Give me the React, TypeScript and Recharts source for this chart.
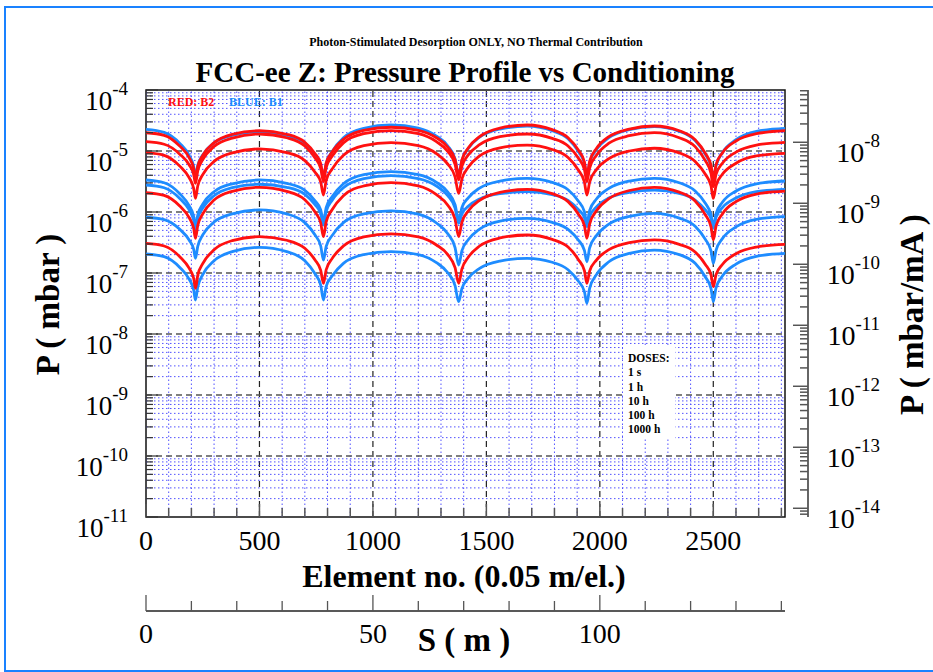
import { LineChart, Line, XAxis, YAxis, ReferenceLine, ReferenceArea } from 'recharts';

const SERIF = "'Liberation Serif', 'Times New Roman', serif";
const RED = '#ff1010';
const BLUE = '#1e8cff';

// element positions shared by every curve (0.05 m per element)
const ELEMENTS = [
  0, 80, 150, 190, 210, 218, 228, 250, 300, 380, 500, 620, 700, 745, 770, 782, 794, 820, 870, 960, 1080,
  1200, 1280, 1330, 1362, 1378, 1392, 1420, 1470, 1560, 1680, 1790, 1860, 1905, 1932, 1943, 1955, 1985,
  2040, 2130, 2240, 2350, 2420, 2465, 2490, 2500, 2512, 2540, 2600, 2690, 2816,
];
const ELEMENT_MAX = 2816;
const METRES_PER_ELEMENT = 0.05;
const BEAM_CURRENT_MA = 1390;

// B2 (red)
const RED_1S = [1.99e-5, 1.81e-5, 1.19e-5, 7.8e-6, 5.2e-6, 3.56e-6, 5.6e-6, 8.5e-6, 1.37e-5, 1.88e-5, 2.15e-5, 1.88e-5, 1.39e-5, 9.05e-6, 6.2e-6, 3.8e-6, 6.35e-6, 9.6e-6, 1.55e-5, 2.18e-5, 2.45e-5, 2.18e-5, 1.65e-5, 1.15e-5, 7.2e-6, 4.04e-6, 7.1e-6, 1.12e-5, 1.72e-5, 2.38e-5, 2.67e-5, 2.24e-5, 1.65e-5, 1.04e-5, 6.6e-6, 4.04e-6, 6.75e-6, 1.1e-5, 1.72e-5, 2.29e-5, 2.57e-5, 2.15e-5, 1.53e-5, 9.15e-6, 5.8e-6, 3.56e-6, 5.9e-6, 9.3e-6, 1.46e-5, 1.92e-5, 2.15e-5];
const RED_1H = [1.42e-5, 1.29e-5, 8.8e-6, 5.95e-6, 4.15e-6, 2.95e-6, 4.7e-6, 7.2e-6, 1.19e-5, 1.63e-5, 1.9e-5, 1.65e-5, 1.21e-5, 7.7e-6, 5.2e-6, 3.14e-6, 5.4e-6, 8.2e-6, 1.36e-5, 1.92e-5, 2.15e-5, 1.92e-5, 1.42e-5, 9.85e-6, 6.05e-6, 3.35e-6, 5.6e-6, 8.6e-6, 1.27e-5, 1.72e-5, 1.9e-5, 1.61e-5, 1.21e-5, 7.7e-6, 5.0e-6, 3.14e-6, 5.25e-6, 8.5e-6, 1.34e-5, 1.78e-5, 2.0e-5, 1.65e-5, 1.18e-5, 6.95e-6, 4.3e-6, 2.6e-6, 4.15e-6, 6.3e-6, 9.6e-6, 1.25e-5, 1.39e-5];
const RED_10H = [9.4e-6, 8.5e-6, 5.6e-6, 3.65e-6, 2.44e-6, 1.67e-6, 2.67e-6, 4.1e-6, 6.75e-6, 9.3e-6, 1.08e-5, 9.4e-6, 6.95e-6, 4.5e-6, 3.1e-6, 1.9e-6, 3.3e-6, 5.05e-6, 8.5e-6, 1.22e-5, 1.37e-5, 1.22e-5, 9.05e-6, 6.1e-6, 3.75e-6, 2.02e-6, 3.47e-6, 5.4e-6, 8.3e-6, 1.13e-5, 1.25e-5, 1.06e-5, 7.8e-6, 4.88e-6, 3.1e-6, 1.9e-6, 3.1e-6, 4.95e-6, 7.5e-6, 1.0e-5, 1.11e-5, 9.3e-6, 6.75e-6, 4.15e-6, 2.67e-6, 1.67e-6, 2.7e-6, 4.15e-6, 6.3e-6, 8.3e-6, 9.15e-6];
const RED_100H = [2.07e-6, 1.87e-6, 1.24e-6, 8.1e-7, 5.4e-7, 3.7e-7, 6.0e-7, 9.3e-7, 1.57e-6, 2.18e-6, 2.54e-6, 2.18e-6, 1.59e-6, 1.0e-6, 6.6e-7, 3.94e-7, 6.94e-7, 1.09e-6, 1.85e-6, 2.67e-6, 3.02e-6, 2.67e-6, 1.92e-6, 1.29e-6, 7.6e-7, 3.94e-7, 6.75e-7, 1.04e-6, 1.55e-6, 2.1e-6, 2.35e-6, 2.0e-6, 1.48e-6, 9.3e-7, 6.0e-7, 3.7e-7, 6.35e-7, 1.05e-6, 1.65e-6, 2.25e-6, 2.54e-6, 2.12e-6, 1.52e-6, 9.0e-7, 5.7e-7, 3.48e-7, 5.85e-7, 9.3e-7, 1.48e-6, 1.97e-6, 2.2e-6];
const RED_1000H = [3.06e-7, 2.77e-7, 1.83e-7, 1.2e-7, 8.2e-8, 5.6e-8, 9.15e-8, 1.42e-7, 2.41e-7, 3.4e-7, 3.94e-7, 3.44e-7, 2.54e-7, 1.63e-7, 1.1e-7, 6.77e-8, 1.13e-7, 1.72e-7, 2.77e-7, 3.9e-7, 4.37e-7, 3.9e-7, 2.88e-7, 2.0e-7, 1.22e-7, 6.77e-8, 1.16e-7, 1.81e-7, 2.77e-7, 3.75e-7, 4.2e-7, 3.56e-7, 2.66e-7, 1.67e-7, 1.09e-7, 6.77e-8, 1.07e-7, 1.63e-7, 2.41e-7, 3.15e-7, 3.48e-7, 2.95e-7, 2.21e-7, 1.38e-7, 9.3e-8, 5.97e-8, 9.4e-8, 1.38e-7, 2.07e-7, 2.66e-7, 2.95e-7];

// B1 (blue)
const BLUE_1S = [2.27e-5, 2.02e-5, 1.32e-5, 8.5e-6, 5.6e-6, 3.8e-6, 5.8e-6, 8.6e-6, 1.36e-5, 1.81e-5, 2.07e-5, 1.81e-5, 1.34e-5, 8.6e-6, 5.8e-6, 3.56e-6, 6.3e-6, 9.75e-6, 1.65e-5, 2.35e-5, 2.67e-5, 2.38e-5, 1.76e-5, 1.21e-5, 7.4e-6, 4.04e-6, 7.0e-6, 1.1e-5, 1.68e-5, 2.29e-5, 2.57e-5, 2.15e-5, 1.59e-5, 9.85e-6, 6.3e-6, 3.8e-6, 6.45e-6, 1.06e-5, 1.65e-5, 2.24e-5, 2.51e-5, 2.1e-5, 1.48e-5, 8.8e-6, 5.5e-6, 3.35e-6, 5.75e-6, 9.4e-6, 1.53e-5, 2.1e-5, 2.35e-5];
const BLUE_1H = [3.35e-6, 3.02e-6, 1.97e-6, 1.27e-6, 8.5e-7, 5.75e-7, 8.9e-7, 1.34e-6, 2.15e-6, 2.9e-6, 3.35e-6, 2.95e-6, 2.27e-6, 1.52e-6, 1.08e-6, 6.94e-7, 1.18e-6, 1.78e-6, 2.9e-6, 4.1e-6, 4.58e-6, 4.1e-6, 3.06e-6, 2.12e-6, 1.32e-6, 7.39e-7, 1.18e-6, 1.71e-6, 2.47e-6, 3.22e-6, 3.56e-6, 3.06e-6, 2.32e-6, 1.52e-6, 1.01e-6, 6.52e-7, 1.05e-6, 1.63e-6, 2.44e-6, 3.22e-6, 3.56e-6, 3.02e-6, 2.21e-6, 1.39e-6, 9.0e-7, 5.75e-7, 9.3e-7, 1.44e-6, 2.21e-6, 2.9e-6, 3.22e-6];
const BLUE_10H = [2.77e-6, 2.5e-6, 1.65e-6, 1.09e-6, 7.39e-7, 5.07e-7, 7.8e-7, 1.16e-6, 1.85e-6, 2.5e-6, 2.85e-6, 2.54e-6, 1.95e-6, 1.32e-6, 9.4e-7, 6.12e-7, 1.02e-6, 1.55e-6, 2.5e-6, 3.52e-6, 3.95e-6, 3.52e-6, 2.67e-6, 1.85e-6, 1.16e-6, 6.52e-7, 9.3e-7, 1.24e-6, 1.63e-6, 2.0e-6, 2.15e-6, 1.92e-6, 1.55e-6, 1.1e-6, 8.1e-7, 5.75e-7, 8.5e-7, 1.21e-6, 1.69e-6, 2.1e-6, 2.29e-6, 2.02e-6, 1.57e-6, 1.08e-6, 7.8e-7, 5.4e-7, 8.2e-7, 1.18e-6, 1.69e-6, 2.15e-6, 2.35e-6];
const BLUE_100H = [8.2e-7, 7.5e-7, 5.15e-7, 3.48e-7, 2.45e-7, 1.74e-7, 2.73e-7, 4.2e-7, 6.85e-7, 9.3e-7, 1.08e-6, 9.3e-7, 6.7e-7, 4.2e-7, 2.77e-7, 1.63e-7, 2.73e-7, 4.1e-7, 6.7e-7, 9.3e-7, 1.04e-6, 9.2e-7, 6.6e-7, 4.4e-7, 2.6e-7, 1.35e-7, 2.3e-7, 3.5e-7, 5.25e-7, 7.1e-7, 7.87e-7, 6.75e-7, 5.2e-7, 3.48e-7, 2.35e-7, 1.53e-7, 2.57e-7, 4.1e-7, 6.35e-7, 8.5e-7, 9.51e-7, 7.95e-7, 5.85e-7, 3.56e-7, 2.3e-7, 1.44e-7, 2.35e-7, 3.66e-7, 5.7e-7, 7.6e-7, 8.38e-7];
const BLUE_1000H = [2.05e-7, 1.85e-7, 1.22e-7, 7.9e-8, 5.26e-8, 3.61e-8, 5.9e-8, 9.4e-8, 1.59e-7, 2.24e-7, 2.63e-7, 2.24e-7, 1.59e-7, 9.7e-8, 6.3e-8, 3.61e-8, 6.05e-8, 8.9e-8, 1.44e-7, 2.0e-7, 2.24e-7, 2.0e-7, 1.48e-7, 1.01e-7, 6.2e-8, 3.39e-8, 5.55e-8, 8.2e-8, 1.19e-7, 1.57e-7, 1.74e-7, 1.5e-7, 1.13e-7, 7.4e-8, 4.95e-8, 3.18e-8, 5.6e-8, 9.4e-8, 1.53e-7, 2.1e-7, 2.38e-7, 2.0e-7, 1.44e-7, 8.6e-8, 5.55e-8, 3.39e-8, 5.7e-8, 8.9e-8, 1.4e-7, 1.88e-7, 2.1e-7];

const SERIES = [
  { key: 'b1s', values: BLUE_1S, color: BLUE },
  { key: 'b1h', values: BLUE_1H, color: BLUE },
  { key: 'b10h', values: BLUE_10H, color: BLUE },
  { key: 'b100h', values: BLUE_100H, color: BLUE },
  { key: 'b1000h', values: BLUE_1000H, color: BLUE },
  { key: 'r1s', values: RED_1S, color: RED },
  { key: 'r1h', values: RED_1H, color: RED },
  { key: 'r10h', values: RED_10H, color: RED },
  { key: 'r100h', values: RED_100H, color: RED },
  { key: 'r1000h', values: RED_1000H, color: RED },
];

const DOSES = ['1 s', '1 h', '10 h', '100 h', '1000 h'];

// ticks
const X_TICKS = [0, 100, 200, 300, 400, 500, 600, 700, 800, 900, 1000, 1100, 1200, 1300, 1400, 1500, 1600, 1700, 1800, 1900, 2000, 2100, 2200, 2300, 2400, 2500, 2600, 2700, 2800];
const X_LABELS = [0, 500, 1000, 1500, 2000, 2500];
const S_TICKS = [0, 10, 20, 30, 40, 50, 60, 70, 80, 90, 100, 110, 120, 130, 140];
const S_LABELS = [0, 50, 100];
const LEFT_DECADES = [1e-11, 1e-10, 1e-9, 1e-8, 1e-7, 1e-6, 1e-5, 1e-4];
const RIGHT_DECADES = [1e-15, 1e-14, 1e-13, 1e-12, 1e-11, 1e-10, 1e-9, 1e-8];
const MINOR = [2, 3, 4, 5, 6, 7, 8, 9];

const Y_DOMAIN: [number, number] = [1e-11, 1e-4];
const RIGHT_DOMAIN: [number, number] = [Y_DOMAIN[0] / BEAM_CURRENT_MA, Y_DOMAIN[1] / BEAM_CURRENT_MA];

const withMinor = (decades: number[], dom: [number, number]) =>
  decades
    .flatMap((d) => [d, ...MINOR.map((m) => d * m)])
    .filter((v) => v >= dom[0] * 0.999 && v <= dom[1] * 1.001);

const LEFT_TICKS = withMinor(LEFT_DECADES, Y_DOMAIN);
const RIGHT_TICKS = withMinor(RIGHT_DECADES, RIGHT_DOMAIN);

const isDecade = (v: number) => Math.abs(Math.log10(v) - Math.round(Math.log10(v))) < 1e-6;

const data = ELEMENTS.map((el, i) => {
  const row: Record<string, number> = { el, s: el * METRES_PER_ELEMENT };
  SERIES.forEach((s) => (row[s.key] = s.values[i]));
  return row;
});

const AXIS = '#333';
const GRID_MINOR = '#5252ff';
const RIGHT_SHIFT = 23;

function LeftTick({ x, y, payload }: any) {
  const v = payload.value;
  const major = isDecade(v);
  return (
    <g>
      <line x1={x} x2={x + (major ? 12 : 7)} y1={y} y2={y} stroke={AXIS} strokeWidth={1.2} />
      {major && (
        <text x={x - 18} y={y + 20} textAnchor="end" fontFamily={SERIF} fontSize={27} fill="#000">
          10
          <tspan dy={-15} fontSize={19}>
            {Math.round(Math.log10(v))}
          </tspan>
        </text>
      )}
    </g>
  );
}

function RightTick({ x, y, payload }: any) {
  const v = payload.value;
  const major = isDecade(v);
  const ax = x + RIGHT_SHIFT;
  return (
    <g>
      <line x1={ax} x2={ax - (major ? 15 : 8)} y1={y} y2={y} stroke="#555" strokeWidth={1.5} />
      {major && (
        <text x={ax + 72} y={y + 20} textAnchor="end" fontFamily={SERIF} fontSize={28} fill="#000">
          10
          <tspan dy={-15} fontSize={19}>
            {Math.round(Math.log10(v))}
          </tspan>
        </text>
      )}
    </g>
  );
}

function ElementTick({ x, y, payload }: any) {
  const v = payload.value;
  const major = v % 500 === 0;
  return (
    <g>
      <line x1={x} x2={x} y1={y} y2={y - (major ? 13 : 9)} stroke="#555" strokeWidth={1.5} />
      {X_LABELS.includes(v) && (
        <text x={x} y={y + 33} textAnchor="middle" fontFamily={SERIF} fontSize={28} fill="#000">
          {v}
        </text>
      )}
    </g>
  );
}

function MetreTick({ x, y, payload }: any) {
  const v = payload.value;
  const major = v % 50 === 0;
  return (
    <g>
      <line x1={x} x2={x} y1={y} y2={y - (major ? 16 : 10)} stroke="#555" strokeWidth={1.3} />
      {S_LABELS.includes(v) && (
        <text x={x} y={y + 32} textAnchor="middle" fontFamily={SERIF} fontSize={28} fill="#000">
          {v}
        </text>
      )}
    </g>
  );
}

const abs = (left: number, top: number, extra: React.CSSProperties = {}): React.CSSProperties => ({
  position: 'absolute',
  left,
  top,
  fontFamily: SERIF,
  fontWeight: 'bold',
  lineHeight: 1,
  whiteSpace: 'nowrap',
  ...extra,
});

export default function App() {
  return (
    <div style={{ position: 'absolute', left: 0, top: 0, width: 933, height: 672, background: '#fff', overflow: 'hidden' }}>
      <div
        style={{
          position: 'absolute',
          left: 4,
          top: 6,
          width: 929,
          height: 666,
          boxSizing: 'border-box',
          border: '2.5px solid #1a82ff',
          borderRight: 'none',
        }}
      />
      <LineChart width={933} height={672} data={data} margin={{ top: 90, left: 145, right: 147, bottom: 11 }}>
        {X_TICKS.filter((v) => v > 0).map((v) => (
          <ReferenceLine
            key={'xv' + v}
            x={v}
            yAxisId="left"
            stroke={v % 500 === 0 ? '#222' : GRID_MINOR}
            strokeDasharray={v % 500 === 0 ? '6 4' : '1.5 2.5'}
            strokeWidth={v % 500 === 0 ? 1.2 : 1}
          />
        ))}
        {LEFT_TICKS.filter((v) => v > Y_DOMAIN[0] * 1.01 && v < Y_DOMAIN[1] * 0.99).map((v) => (
          <ReferenceLine
            key={'yh' + v}
            y={v}
            yAxisId="left"
            stroke={isDecade(v) ? '#555' : GRID_MINOR}
            strokeDasharray={isDecade(v) ? '6 4' : '1.5 2.5'}
            strokeWidth={isDecade(v) ? 1.6 : 1}
          />
        ))}
        <XAxis
          dataKey="el"
          type="number"
          domain={[0, ELEMENT_MAX]}
          allowDataOverflow
          ticks={X_TICKS}
          interval={0}
          tick={<ElementTick />}
          tickLine={false}
          axisLine={false}
          tickSize={0}
          tickMargin={0}
          height={94}
        />
        <XAxis
          xAxisId="s"
          dataKey="s"
          type="number"
          domain={[0, ELEMENT_MAX * METRES_PER_ELEMENT]}
          allowDataOverflow
          ticks={S_TICKS}
          interval={0}
          tick={<MetreTick />}
          tickLine={false}
          axisLine={{ stroke: '#222', strokeWidth: 1.3 }}
          tickSize={0}
          tickMargin={0}
          height={50}
        />
        <YAxis
          yAxisId="left"
          type="number"
          scale="log"
          domain={Y_DOMAIN}
          allowDataOverflow
          ticks={LEFT_TICKS}
          interval={0}
          tick={<LeftTick />}
          tickLine={false}
          axisLine={false}
          tickSize={0}
          tickMargin={0}
          width={1}
        />
        <YAxis
          yAxisId="right"
          orientation="right"
          type="number"
          scale="log"
          domain={RIGHT_DOMAIN}
          allowDataOverflow
          ticks={RIGHT_TICKS}
          interval={0}
          tick={<RightTick />}
          tickLine={false}
          axisLine={{ stroke: '#666', strokeWidth: 2, transform: `translate(${RIGHT_SHIFT} 0)` }}
          tickSize={0}
          tickMargin={0}
          width={1}
        />
        {SERIES.map((s) => (
          <Line
            key={s.key}
            yAxisId="left"
            type="monotone"
            dataKey={s.key}
            stroke={s.color}
            strokeWidth={2.8}
            dot={false}
            isAnimationActive={false}
          />
        ))}
        <ReferenceArea
          x1={0}
          x2={ELEMENT_MAX}
          y1={Y_DOMAIN[0]}
          y2={Y_DOMAIN[1]}
          yAxisId="left"
          fill="none"
          fillOpacity={0}
          stroke="#111"
          strokeWidth={1.5}
        />
      </LineChart>

      <div style={abs(176, 36, { width: 600, textAlign: 'center', fontSize: 12 })}>
        Photon-Stimulated Desorption ONLY, NO Thermal Contribution
      </div>
      <div style={abs(165, 58, { width: 600, textAlign: 'center', fontSize: 29 })}>
        FCC-ee Z: Pressure Profile vs Conditioning
      </div>
      <div style={abs(168, 96, { fontSize: 12, color: RED })}>RED: B2</div>
      <div style={abs(229, 96, { fontSize: 12, color: BLUE })}>BLUE: B1</div>

      <div style={{ position: 'absolute', left: 623, top: 347, width: 52, height: 92, background: '#fff', padding: '4px 0 0 5px', boxSizing: 'border-box' }}>
        <div style={{ fontFamily: SERIF, fontWeight: 'bold', fontSize: 11.5, lineHeight: '14.3px' }}>DOSES:</div>
        {DOSES.map((d) => (
          <div key={d} style={{ fontFamily: SERIF, fontWeight: 'bold', fontSize: 11.5, lineHeight: '14.3px' }}>
            {d}
          </div>
        ))}
      </div>

      <div style={abs(164, 560, { width: 600, textAlign: 'center', fontSize: 32 })}>Element no. (0.05 m/el.)</div>
      <div style={abs(264, 624, { width: 400, textAlign: 'center', fontSize: 33 })}>S ( m )</div>
      <div
        style={abs(48 - 150, 305 - 17, { width: 300, textAlign: 'center', fontSize: 33, transform: 'rotate(-90deg)' })}
      >
        P ( mbar )
      </div>
      <div
        style={abs(912 - 150, 315 - 17, { width: 300, textAlign: 'center', fontSize: 33, transform: 'rotate(-90deg)' })}
      >
        P ( mbar/mA )
      </div>
    </div>
  );
}
